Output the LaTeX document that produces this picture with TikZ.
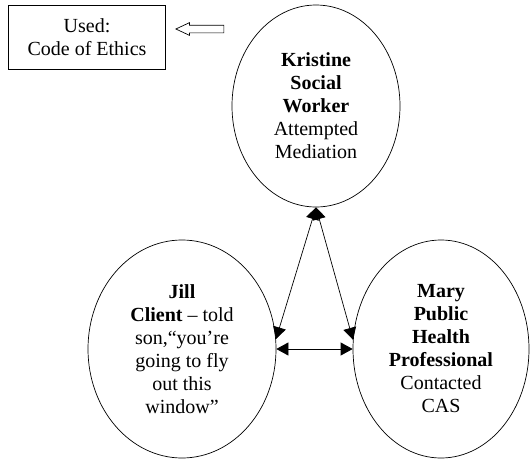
\documentclass[tikz,border=0pt]{standalone}
\usepackage{fontspec}
\setmainfont{Liberation Serif}
\usetikzlibrary{arrows.meta, positioning, shapes.geometric, shapes.arrows}

\begin{document}
\begin{tikzpicture}[x=1pt, y=-1pt,
    every node/.style={font=\fontsize{20}{23}\selectfont},
    person/.style={draw, ellipse, align=center, inner sep=0pt, line width=0.7pt},
    link/.style={{Triangle[length=12pt,width=13pt]}-{Triangle[length=12pt,width=13pt]}, line width=0.7pt},
  ]
  \useasboundingbox (0,0) rectangle (531,461);
  \node[draw, align=center, minimum width=157pt, minimum height=64pt, inner sep=0pt, line width=0.7pt]
    (ethics) at (87,37.5) {Used:\\Code of Ethics};
  \node[draw, single arrow, shape border rotate=180, minimum height=48pt, inner sep=3.5pt,
        single arrow head extend=2.5pt, single arrow tip angle=50, line width=0.7pt]
    (pointer) at (204,29) {};

  \node[person, minimum width=168pt, minimum height=202pt] (kristine) at (316,106)
    {\textbf{Kristine}\\\textbf{Social}\\\textbf{Worker}\\Attempted\\Mediation};
  \node[person, minimum width=188pt, minimum height=218pt] (jill) at (182,349)
    {\textbf{Jill}\\\textbf{Client} -- told\\son,“you’re\\going to fly\\out this\\window”};
  \node[person, minimum width=176pt, minimum height=218pt] (mary) at (441,349)
    {\textbf{Mary}\\\textbf{Public}\\\textbf{Health}\\\textbf{Professional}\\Contacted\\CAS};

  \draw[link] (kristine.south) -- (jill.6);
  \draw[link] (kristine.south) -- (mary.174);
  \draw[link] (jill.east) -- (mary.west);
\end{tikzpicture}
\end{document}
